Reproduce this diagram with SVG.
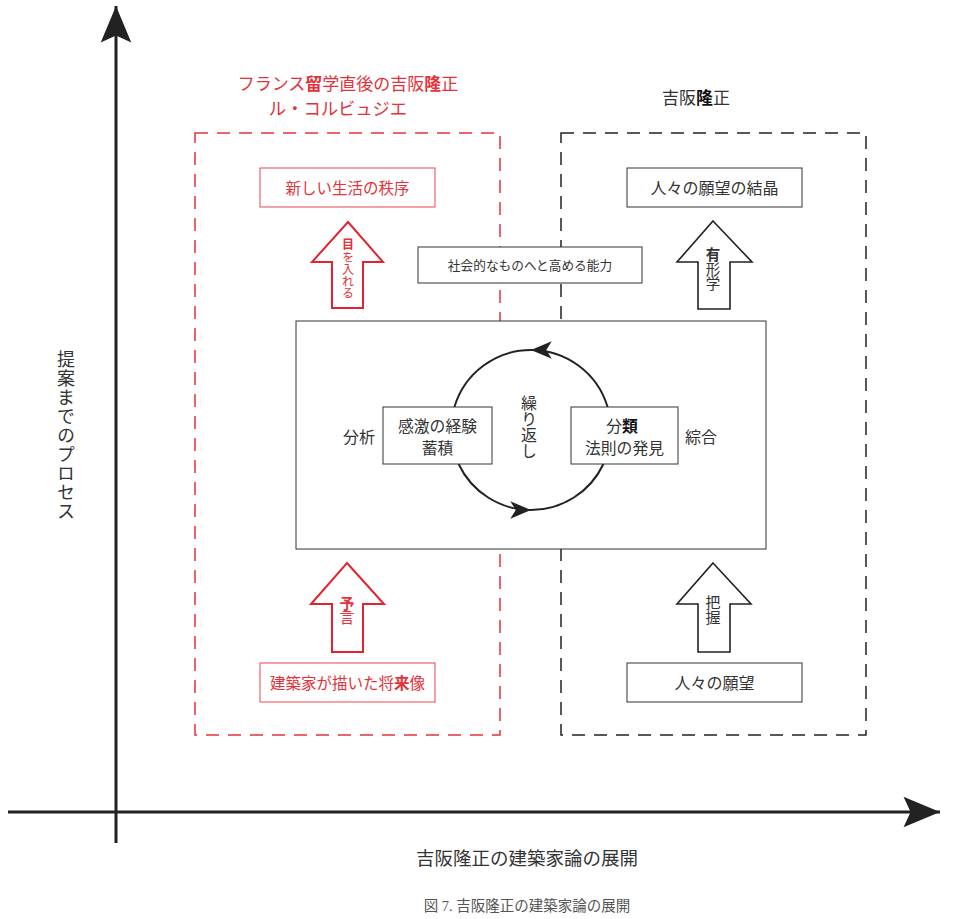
<svg xmlns="http://www.w3.org/2000/svg" width="965" height="919" viewBox="0 0 965 919">
<defs>
<style>
text{font-family:"Noto Sans CJK JP","Noto Sans",sans-serif;}
.dk{fill:#333;}
.rd{fill:#e3323b;}
.box{fill:#fff;stroke:#333;stroke-width:1;}
.rbox{fill:#fff;stroke:#e8474f;stroke-width:1;}
.rdash{fill:none;stroke:#e3323b;stroke-width:1.5;stroke-dasharray:13 9;}
.kdash{fill:none;stroke:#222;stroke-width:1.5;stroke-dasharray:13 9;}
.rarrow{fill:#fff;stroke:#e3232d;stroke-width:2;stroke-linejoin:miter;}
.karrow{fill:#fff;stroke:#222;stroke-width:1.6;stroke-linejoin:miter;}
.axis{stroke:#222;stroke-width:3;fill:none;}
.cyc{stroke:#222;stroke-width:2;fill:none;}
.vt{writing-mode:vertical-rl;text-anchor:start;}
</style>
<marker id="axhead" markerUnits="userSpaceOnUse" markerWidth="40" markerHeight="40" viewBox="-32 -14 34 28" refX="0" refY="0" orient="auto">
<path d="M0,0 L-31,-13 L-25,0 L-31,13 Z" fill="#222"/>
</marker>
<marker id="cychead" markerUnits="userSpaceOnUse" markerWidth="24" markerHeight="20" viewBox="-20 -9 22 18" refX="0" refY="0" orient="auto">
<path d="M0,0 L-19,-8 L-14,0 L-19,8 Z" fill="#222"/>
</marker>
</defs>

<g id="axes">
<line class="axis" x1="116" y1="843" x2="116" y2="6" marker-end="url(#axhead)"/>
<line class="axis" x1="8" y1="812" x2="940" y2="812" marker-end="url(#axhead)"/>
<text class="dk vt" x="66" y="350" font-size="18" letter-spacing="1">提案までのプロセス</text>
<text class="dk" x="527" y="865" font-size="18.5" text-anchor="middle">吉阪隆正の建築家論の展開</text>
</g>

<g id="group-red">
<rect class="rdash" x="195" y="133" width="305" height="602"/>
<text class="rd" x="348" y="90" font-size="17" text-anchor="middle">フランス<tspan font-weight="bold">留</tspan>学直後の吉阪<tspan font-weight="bold">隆</tspan>正</text>
<text class="rd" x="338" y="115" font-size="17.3" text-anchor="middle">ル・コルビュジエ</text>
</g>

<g id="group-black">
<rect class="kdash" x="561" y="133" width="305" height="602"/>
<text class="dk" x="696" y="104" font-size="17" text-anchor="middle">吉阪<tspan font-weight="bold" fill="#111">隆</tspan>正</text>
</g>

<g id="node-order">
<rect class="rbox" x="260" y="168" width="175" height="39"/>
<text class="rd" x="347.5" y="193.5" font-size="15.5" text-anchor="middle">新しい生活の秩序</text>
</g>

<g id="node-crystal">
<rect class="box" x="627" y="168" width="175" height="39"/>
<text class="dk" x="714.5" y="193.5" font-size="16" text-anchor="middle">人々の願望の結晶</text>
</g>

<g id="node-future">
<rect class="rbox" x="260" y="663" width="175" height="39"/>
<text class="rd" x="347.5" y="688.5" font-size="15.5" text-anchor="middle">建築家が描いた将<tspan font-weight="bold">来</tspan>像</text>
</g>

<g id="node-wish">
<rect class="box" x="627" y="663" width="175" height="39"/>
<text class="dk" x="714.5" y="688.5" font-size="16" text-anchor="middle">人々の願望</text>
</g>

<g id="node-ability">
<rect class="box" x="418" y="247" width="224" height="36"/>
<text class="dk" x="530" y="269.5" font-size="12.7" text-anchor="middle">社会的なものへと高める能力</text>
</g>

<g id="node-center">
<rect class="box" x="296" y="321" width="470" height="228"/>
</g>

<g id="connectors">
<path class="rarrow" d="M348,222 L383,262 L363,262 L363,308 L332,308 L332,262 L312,262 Z"/>
<path class="karrow" d="M713,221 L752,262 L730,262 L730,309 L698,309 L698,262 L677,262 Z"/>
<path class="rarrow" d="M347,563 L384,604 L363,604 L363,652 L332,652 L332,604 L311,604 Z"/>
<path class="karrow" d="M713,563 L751,604 L730,604 L730,652 L698,652 L698,604 L677,604 Z"/>
<path class="cyc" d="M607.6,407 A80,80 0 0 0 531,350" marker-end="url(#cychead)"/>
<path class="cyc" d="M531,350 A80,80 0 0 0 454.4,407"/>
<path class="cyc" d="M458.6,464 A80,80 0 0 0 531,510" marker-end="url(#cychead)"/>
<path class="cyc" d="M531,510 A80,80 0 0 0 603.4,464"/>
</g>

<g id="label-arrows">
<text class="rd" x="348" y="249" font-size="12" font-weight="bold" text-anchor="middle">目</text>
<text class="rd vt" x="348" y="251" font-size="12">を入れる</text>
<text class="dk" x="713" y="260" font-size="14.5" font-weight="bold" fill="#111" text-anchor="middle">有</text>
<text class="dk vt" x="713" y="262" font-size="14.5">形学</text>
<text class="rd" x="347" y="609" font-size="15" font-weight="bold" text-anchor="middle">予</text>
<text class="rd vt" x="347" y="610" font-size="15">言</text>
<text class="dk vt" x="713" y="595" font-size="15">把握</text>
</g>

<g id="node-experience">
<rect class="box" x="383" y="407" width="109" height="57"/>
<text class="dk" x="437.5" y="431.5" font-size="15.8" text-anchor="middle">感激の経験</text>
<text class="dk" x="437.5" y="453.5" font-size="15.8" text-anchor="middle">蓄積</text>
</g>

<g id="node-classify">
<rect class="box" x="571" y="407" width="107" height="57"/>
<text class="dk" x="622" y="431.5" font-size="15.8" text-anchor="middle">分<tspan font-weight="bold" fill="#111">類</tspan></text>
<text class="dk" x="624.5" y="453.5" font-size="15.8" text-anchor="middle">法則の発見</text>
</g>

<g id="labels-center">
<text class="dk" x="359" y="442.5" font-size="16" text-anchor="middle">分析</text>
<text class="dk" x="701" y="442.5" font-size="16" text-anchor="middle">綜合</text>
<text class="dk vt" x="529" y="395" font-size="16">繰り返し</text>
</g>

<text x="527" y="911" font-size="14.5" text-anchor="middle" fill="#555" style="font-family:'Liberation Serif','Noto Sans CJK JP',serif">図 7. 吉阪隆正の建築家論の展開</text>
</svg>
